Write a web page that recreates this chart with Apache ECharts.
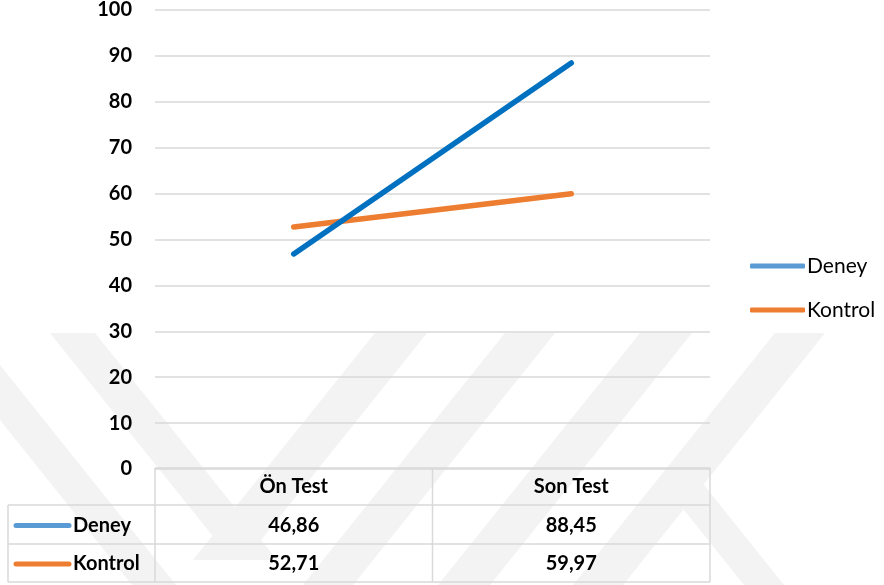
<!DOCTYPE html>
<html>
<head>
<meta charset="utf-8">
<script src="https://cdn.jsdelivr.net/npm/echarts@6/dist/echarts.min.js"></script>
<style>
  html, body { margin: 0; padding: 0; background: #fff; }
  #chart { width: 884px; height: 585px; }
</style>
</head>
<body>
<div id="chart"></div>
<script>
// data
var categories = ['Ön Test', 'Son Test']
var seriesNames = ['Deney', 'Kontrol']
var deney = [46.86, 88.45]
var kontrol = [52.71, 59.97]
var yTicks = [0, 100, 10] // min, max, interval

var lineColors = ['#0070C0', '#ED7D31']
var keyColors = ['#5B9BD5', '#ED7D31']
var font = 'Lato'
var gridColor = '#D9D9D9'

var chart = echarts.init(document.getElementById('chart'))

chart.setOption({
  animation: false,
  backgroundColor: '#fff',
  grid: { left: 155, right: 174, top: 10, bottom: 116 },
  legend: {
    orient: 'vertical',
    left: 750,
    top: 255,
    padding: 0,
    itemWidth: 55,
    itemHeight: 5,
    itemGap: 22,
    icon: 'roundRect',
    textStyle: { fontFamily: font, fontSize: 21, color: '#000', lineHeight: 22, padding: [0, 0, 0, -3] },
    data: seriesNames.map(function (n, i) {
      return { name: n, itemStyle: { color: keyColors[i] } }
    })
  },
  xAxis: {
    type: 'category',
    data: categories,
    axisLine: { show: false },
    axisTick: { show: false },
    axisLabel: { show: false }
  },
  yAxis: {
    type: 'value',
    min: yTicks[0],
    max: yTicks[1],
    interval: yTicks[2],
    axisLine: { show: false },
    axisTick: { show: false },
    axisLabel: { margin: 23, fontFamily: font, fontSize: 20, fontWeight: 'bold', color: '#000' },
    splitLine: { lineStyle: { color: gridColor, width: 1.5 } }
  },
  series: [
    {
      name: seriesNames[0], type: 'line', data: deney, symbol: 'none',
      itemStyle: { color: lineColors[0] },
      lineStyle: { color: lineColors[0], width: 5.5, cap: 'round' }, z: 3
    },
    {
      name: seriesNames[1], type: 'line', data: kontrol, symbol: 'none',
      itemStyle: { color: lineColors[1] },
      lineStyle: { color: lineColors[1], width: 5.5, cap: 'round' }, z: 2
    }
  ]
})

// data table under the plot, placed from the axis scale
function fmt(v) { return v.toFixed(2).replace('.', ',') }

var p0 = chart.convertToPixel({ gridIndex: 0 }, [0, 0])
var p1 = chart.convertToPixel({ gridIndex: 0 }, [1, 0])
var band = p1[0] - p0[0]
var tableTop = p0[1] - 1
var rows = [tableTop, 505, 544, 582]
var leftEdge = 8
var colEdges = [p0[0] - band / 2, p0[0] + band / 2, p1[0] + band / 2]
var centers = [p0[0], p1[0]]
var tableData = [deney, kontrol]

var els = []
var border = { stroke: gridColor, lineWidth: 1.5 }
function hline(xa, xb, y) {
  els.push({ type: 'line', shape: { x1: xa, y1: y, x2: xb, y2: y }, style: border, z: 5 })
}
function vline(x, ya, yb) {
  els.push({ type: 'line', shape: { x1: x, y1: ya, x2: x, y2: yb }, style: border, z: 5 })
}
function txt(s, x, y, align) {
  els.push({
    type: 'text', x: x, y: y, z: 6,
    style: { text: s, fontFamily: font, fontSize: 20, fontWeight: 'bold', fill: '#000', align: align, verticalAlign: 'middle' }
  })
}

hline(colEdges[0], colEdges[2], rows[0])
hline(leftEdge, colEdges[2], rows[1])
hline(leftEdge, colEdges[2], rows[2])
hline(leftEdge, colEdges[2], rows[3])
vline(leftEdge, rows[1], rows[3])
colEdges.forEach(function (x) { vline(x, rows[0], rows[3]) })

categories.forEach(function (c, i) { txt(c, centers[i], (rows[0] + rows[1]) / 2, 'center') })
seriesNames.forEach(function (n, r) {
  var yc = (rows[r + 1] + rows[r + 2]) / 2 + 1
  els.push({
    type: 'line', z: 6,
    shape: { x1: 16, y1: yc, x2: 69, y2: yc },
    style: { stroke: keyColors[r], lineWidth: 5, lineCap: 'round' }
  })
  txt(n, 73, yc, 'left')
  tableData[r].forEach(function (v, i) { txt(fmt(v), centers[i], yc, 'center') })
})

// faint watermark stripes behind everything
var wm = [
  [[50, 333], [95, 333], [277, 560], [232, 560]],
  [[375, 333], [427, 333], [245, 560], [193, 560]],
  [[0, 365], [0, 420], [132, 585], [176, 585]],
  [[505, 333], [555, 333], [353, 585], [303, 585]],
  [[640, 333], [692, 333], [490, 585], [438, 585]],
  [[775, 333], [825, 333], [623, 585], [573, 585]],
  [[660, 480], [700, 480], [784, 585], [744, 585]]
]
wm.forEach(function (p) {
  els.push({ type: 'polygon', z: -100, silent: true, shape: { points: p }, style: { fill: '#F3F3F3' } })
})

chart.setOption({ graphic: els })
</script>
</body>
</html>
